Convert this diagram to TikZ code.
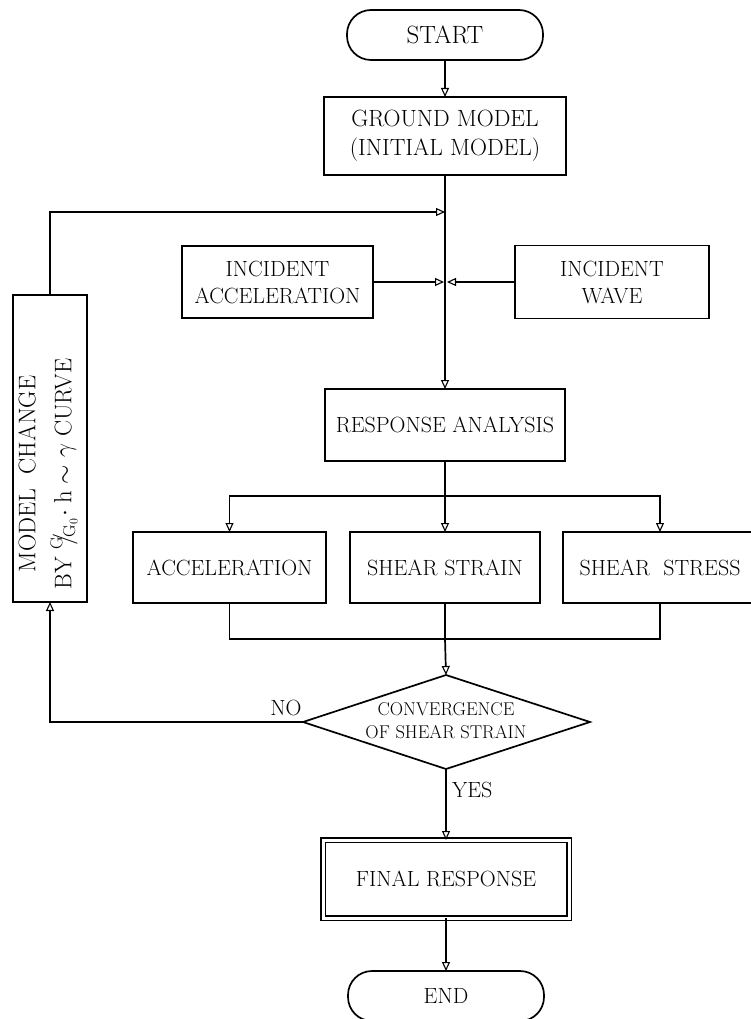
\documentclass[tikz,border=0pt]{standalone}
\usetikzlibrary{arrows.meta}
\begin{document}
\begin{tikzpicture}[x=1pt,y=-1pt,
  every node/.style={inner sep=0pt,outer sep=0pt},
  ln/.style={line width=1.7pt},
  arr/.style={ln,-{Triangle[open,length=9pt,width=8pt,line width=1.1pt]}},
  box/.style={draw,ln,rectangle,align=center,font=\fontsize{22}{27}\selectfont},
  term/.style={draw,ln,rectangle,rounded corners=24pt,minimum width=196pt,minimum height=50pt,font=\fontsize{22}{26}\selectfont},
  lbl/.style={font=\fontsize{22}{26}\selectfont}
]
\clip (0,0) rectangle (751,1019);
\fill[white] (0,0) rectangle (751,1019);

\node[term,font=\fontsize{25}{28}\selectfont] (start) at (445,35) {START};
\node[box,minimum width=242pt,minimum height=78pt,font=\fontsize{23.5}{29}\selectfont] (ground) at (445,136) {GROUND MODEL\\(INITIAL MODEL)};
\node[box,minimum width=191pt,minimum height=72pt] (iacc) at (277.5,282) {INCIDENT\\ACCELERATION};
\node[box,minimum width=194pt,minimum height=73pt] (iwave) at (612,282) {INCIDENT\\WAVE};
\node[box,minimum width=240pt,minimum height=72pt] (resp) at (445,425) {RESPONSE ANALYSIS};
\node[box,minimum width=193pt,minimum height=71pt] (acc) at (229.5,567.5) {ACCELERATION};
\node[box,minimum width=190pt,minimum height=71pt] (strain) at (445,567.5) {SHEAR STRAIN};
\node[box,minimum width=194pt,minimum height=71pt] (stress) at (660,567.5) {SHEAR\ \ STRESS};
\node[box,minimum width=74pt,minimum height=307pt] (model) at (50,448.5) {};
\node[rotate=90,align=center,font=\fontsize{24}{36}\selectfont] (modeltxt) at (48,474)
  {MODEL\ \ CHANGE\\BY $^{\mathrm{G}}\!\!/\!_{\mathrm{G}_0}\!\cdot\mathrm{h}\sim\gamma$ CURVE};

% decision
\coordinate (dN) at (446,675);
\coordinate (dS) at (446,769);
\coordinate (dW) at (303,722);
\coordinate (dE) at (590,722);
\draw[ln] (dN) -- (dE) -- (dS) -- (dW) -- cycle;
\node[align=center,font=\fontsize{18.5}{23}\selectfont] (dec) at (446,721) {CONVERGENCE\\OF SHEAR STRAIN};

\node[draw,ln,double,double distance=3pt,minimum width=246pt,minimum height=78pt,font=\fontsize{22}{26}\selectfont] (final) at (446,879) {FINAL RESPONSE};
\node[term] (end) at (446,996) {END};

\node[lbl] (no) at (286,708) {NO};
\node[lbl,anchor=west] (yes) at (452,790) {YES};

% junction coordinates
\coordinate (j1) at (445,212);
\coordinate (j2) at (445,282);
\coordinate (b) at (445,496);
\coordinate (c) at (445,639);

% connectors
\draw[arr] (start) -- (ground);
\draw[arr] (ground) -- (resp);
\draw[arr] (model.north) |- (j1);
\draw[arr] (iacc.east) -- ([xshift=-1pt]j2);
\draw[arr] (iwave.west) -- ([xshift=2pt]j2);
\draw[ln] (resp.south) -- (b);
\draw[arr] (b) -| (acc.north);
\draw[arr] (b) -- (strain.north);
\draw[arr] (b) -| (stress.north);
\draw[ln] (acc.south) |- (c) -| (stress.south);
\draw[ln] (strain.south) -- (c);
\draw[arr] (c) -- (dN);
\draw[arr] (dW) -| (model.south);
\draw[arr] (dS) -- (final.north);
\draw[arr] (final.south) -- (end.north);
\end{tikzpicture}
\end{document}
